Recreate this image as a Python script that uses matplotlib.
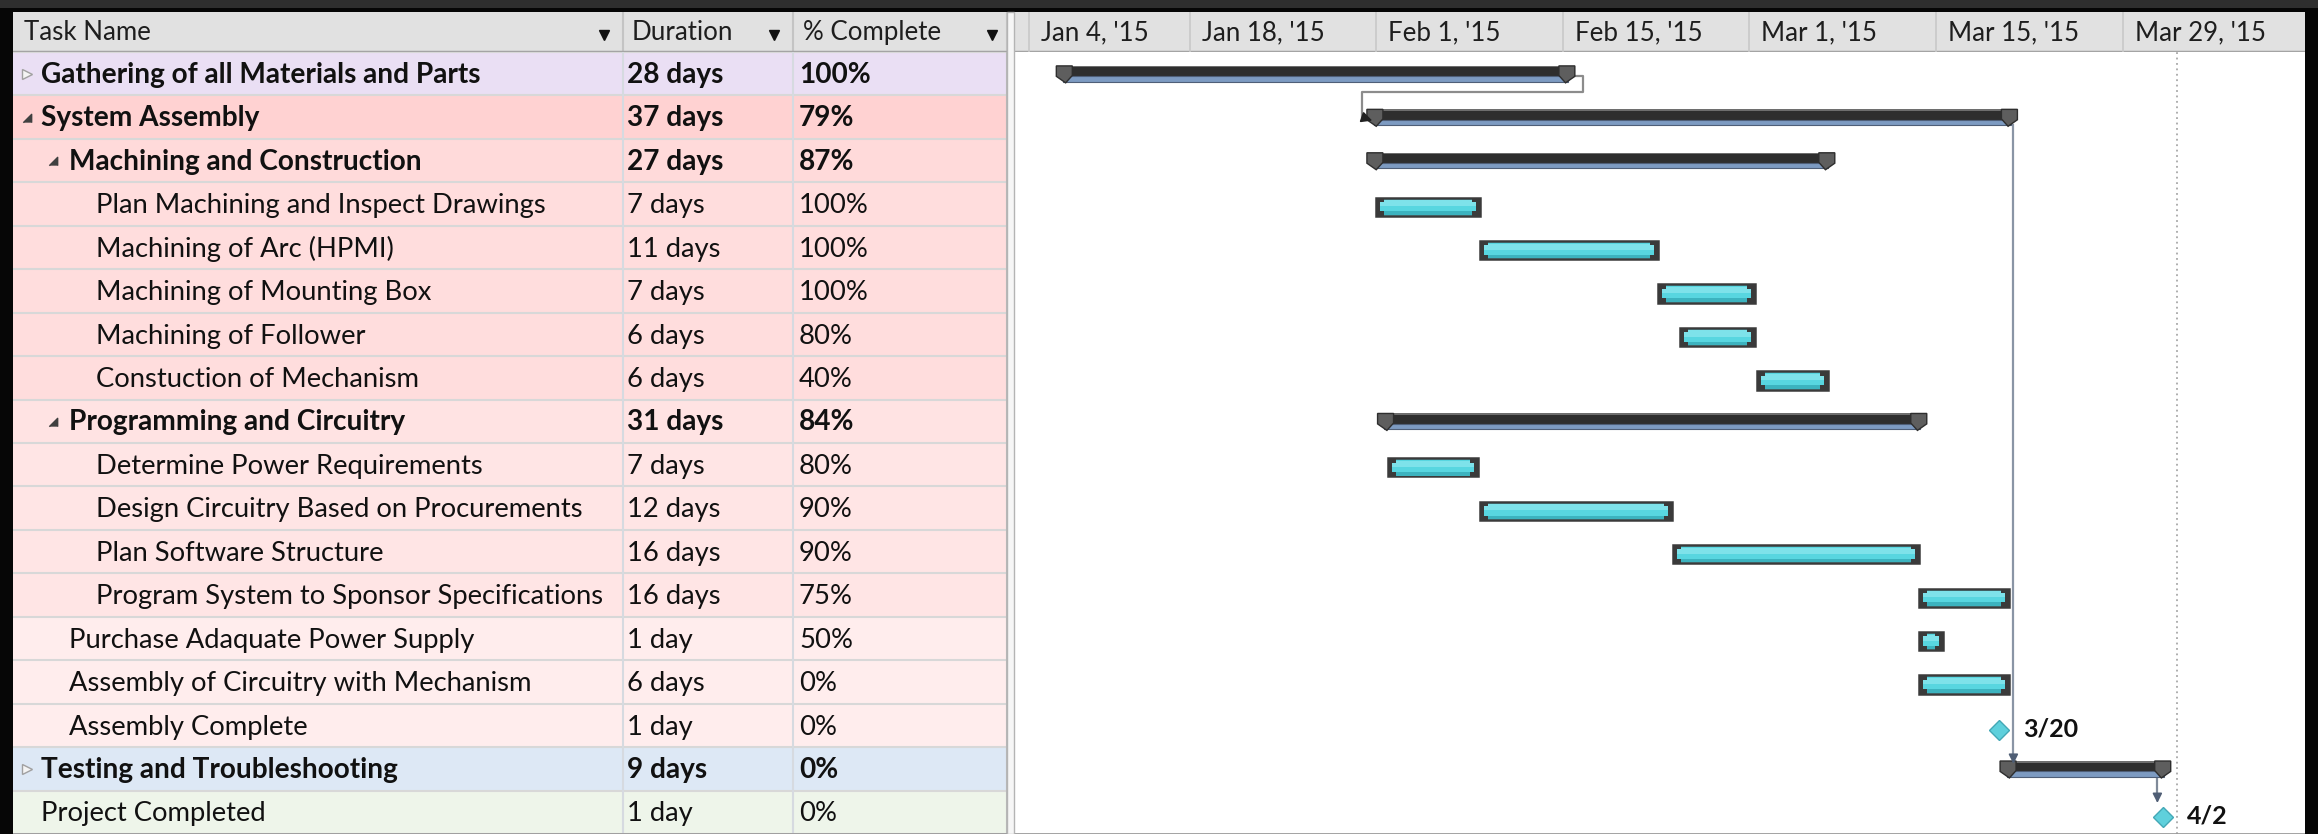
import numpy as np
import matplotlib.pyplot as plt
from matplotlib.patches import Rectangle, Polygon

plt.rcParams['font.family'] = ['Lato', 'DejaVu Sans']

W, H = 2318, 834

task_names = [
    'Gathering of all Materials and Parts',
    'System Assembly',
    'Machining and Construction',
    'Plan Machining and Inspect Drawings',
    'Machining of Arc (HPMI)',
    'Machining of Mounting Box',
    'Machining of Follower',
    'Constuction of Mechanism',
    'Programming and Circuitry',
    'Determine Power Requirements',
    'Design Circuitry Based on Procurements',
    'Plan Software Structure',
    'Program System to Sponsor Specifications',
    'Purchase Adaquate Power Supply',
    'Assembly of Circuitry with Mechanism',
    'Assembly Complete',
    'Testing and Troubleshooting',
    'Project Completed',
]
outline_level = [0, 0, 1, 2, 2, 2, 2, 2, 1, 2, 2, 2, 2, 1, 1, 1, 0, 0]
row_kind = ['collapsed', 'summary', 'summary', 'task', 'task', 'task', 'task', 'task',
            'summary', 'task', 'task', 'task', 'task', 'task', 'task', 'milestone',
            'collapsed', 'milestone']
durations = ['28 days', '37 days', '27 days', '7 days', '11 days', '7 days', '6 days',
             '6 days', '31 days', '7 days', '12 days', '16 days', '16 days', '1 day',
             '6 days', '1 day', '9 days', '1 day']
pct_complete = ['100%', '79%', '87%', '100%', '100%', '100%', '80%', '40%', '84%',
                '80%', '90%', '90%', '75%', '50%', '0%', '0%', '0%', '0%']

# bar start / finish in days after Jan 4 '15
bar_start = [4.0, 27.3, 27.3, 28.0, 35.8, 49.1, 50.8, 56.6, 28.1, 28.9, 35.8, 50.3,
             68.7, 68.7, 68.7, 74.7, 74.8, 87.0]
bar_finish = [42.9, 76.1, 62.4, 35.8, 49.1, 56.4, 56.4, 61.9, 69.3, 35.6, 50.2, 68.7,
              75.5, 70.5, 75.5, 74.7, 87.6, 87.0]
milestone_labels = {15: '3/20', 17: '4/2'}

row_colors = ['#eadff4', '#ffd2d2', '#ffdada', '#ffdddd', '#ffdddd', '#ffdddd',
              '#ffdddd', '#ffdddd', '#ffe3e3', '#ffe5e5', '#ffe5e5', '#ffe5e5',
              '#ffe5e5', '#ffeded', '#ffeded', '#ffeded', '#dde8f5', '#eef5ea']

scale_days = [0, 14, 28, 42, 56, 70, 84]
scale_labels = ["Jan 4, '15", "Jan 18, '15", "Feb 1, '15", "Feb 15, '15",
                "Mar 1, '15", "Mar 15, '15", "Mar 29, '15"]
status_day = 88.1

# (predecessor, successor, routing)
links = [(0, 1, 'loop'), (1, 16, 'drop'), (16, 17, 'drop')]

col_names = ['Task Name', 'Duration', '% Complete']

n = len(task_names)
rows = np.arange(n)
centers = rows + 0.5

FS_REG = 19.7
FS_BOLD = 20.2
FS_HEAD = 18.6
FS_SCALE = 18.6

fig = plt.figure(figsize=(W / 100, H / 100), dpi=100, facecolor='#060606')


def px_axes(x0, y0, x1, y1):
    return fig.add_axes([x0 / W, 1 - y1 / H, (x1 - x0) / W, (y1 - y0) / H])


# dark window frame on top
fig.add_artist(Rectangle((0, 1 - 8 / H), 1, 8 / H, transform=fig.transFigure,
                         fc='#2e2e2e', ec='none'))
# splitter between table and chart
fig.add_artist(Rectangle((1007 / W, 0), 7 / W, (H - 12) / H, transform=fig.transFigure,
                         fc='#f6f6f6', ec='#b4b4b4', lw=1))

# ---------------- table ----------------
tx0, tx1 = 13, 1007
col_edges = [tx0, 623, 793, tx1]
text_x = [None, 627, 799]
indent_x = [41, 69, 96]
tri_x = [27, 53]

tab = px_axes(tx0, 52, tx1, 834)
tab.set_xlim(tx0, tx1)
tab.set_ylim(n, 0)
tab.axis('off')
tab.barh(centers, tx1 - tx0, left=tx0, height=1, color=row_colors)
for r in range(n + 1):
    tab.axhline(r, color='#d8d8d8', lw=1.5)
for xe in col_edges[1:-1]:
    tab.axvline(xe, color='#d6dae0', lw=1.5)
tab.axvline(tx1 - 0.5, color='#b8b8b8', lw=1.5)

for i in rows:
    bold = row_kind[i] in ('summary', 'collapsed')
    fw = 'bold' if bold else 'normal'
    fs = FS_BOLD if bold else FS_REG
    y = centers[i] + 0.21
    lvl = outline_level[i]
    tab.text(indent_x[lvl], y, task_names[i], fontsize=fs, fontweight=fw,
             color='#111111', va='baseline', ha='left')
    tab.text(text_x[1], y, durations[i], fontsize=fs, fontweight=fw,
             color='#111111', va='baseline', ha='left')
    tab.text(text_x[2], y, pct_complete[i], fontsize=fs, fontweight=fw,
             color='#111111', va='baseline', ha='left')
    if row_kind[i] == 'collapsed':
        tab.plot(tri_x[lvl], centers[i], marker='>', ms=7, mfc='#f4f4f4',
                 mec='#a0a0a0', mew=1)
    elif row_kind[i] == 'summary':
        tab.plot(tri_x[lvl], centers[i] + 0.02, marker=[(1, -1), (1, 1), (-1, -1)],
                 ms=6, color='#404040')

# table header
th = px_axes(tx0, 12, tx1, 52)
th.set_xlim(tx0, tx1)
th.set_ylim(1, 0)
th.axis('off')
th.add_patch(Rectangle((tx0, 0), tx1 - tx0, 1, fc='#e1e1e1', ec='none'))
for xe in col_edges[1:]:
    th.axvline(xe, color='#c4c4c4', lw=1.5)
th.axhline(1, color='#a4a4a4', lw=2.5)
header_x = [24, 632, 803]
arrow_x = [604, 774, 992]
for j in range(3):
    th.text(header_x[j], 0.7, col_names[j], fontsize=FS_HEAD, color='#1e1e1e',
            va='baseline', ha='left')
    th.plot(arrow_x[j], 0.58, marker='v', ms=7, color='#111111')

# ---------------- gantt ----------------
gx0, gx1 = 1014, 2305
px_per_day = 13.33
day0_px = 1003
xlim = ((gx0 - day0_px) / px_per_day, (gx1 - day0_px) / px_per_day)

gan = px_axes(gx0, 52, gx1, 834)
gan.set_xlim(*xlim)
gan.set_ylim(n, 0)
gan.set_facecolor('white')
for s in gan.spines.values():
    s.set_visible(False)
gan.set_xticks([])
gan.set_yticks([])
gan.axvline(status_day, color='#a8a8a8', lw=1.3, ls=(0, (1, 2)), zorder=1)
gan.axhline(n, color='#9a9a9a', lw=2)
tab.axhline(n, color='#9a9a9a', lw=2)


def draw_summary(ax, s, f, c):
    cw = 1.2
    ax.add_patch(Rectangle((s, c - 0.18), f - s, 0.24, fc='#2e2e2e', ec='none', zorder=3))
    ax.add_patch(Rectangle((s, c - 0.18), f - s, 0.035, fc='#6e6e6e', ec='none', zorder=3))
    ax.add_patch(Rectangle((s + 0.5, c + 0.06), f - s - 1.0, 0.12, fc='#7d9bc2',
                           ec='#4f5f78', lw=0.8, zorder=3))
    left = [(s, c - 0.18), (s + cw, c - 0.18), (s + cw, c + 0.04), (s + 0.7, c + 0.21),
            (s, c + 0.06)]
    right = [(f, c - 0.18), (f - cw, c - 0.18), (f - cw, c + 0.04), (f - 0.7, c + 0.21),
             (f, c + 0.06)]
    for pts in (left, right):
        ax.add_patch(Polygon(pts, closed=True, fc='#5e5e5e', ec='#2e2e2e', lw=1, zorder=4))


def draw_task(ax, s, f, c):
    h = 0.42
    top = c - h / 2 + 0.06
    ax.add_patch(Rectangle((s, top), f - s, h, fc='#58d6e0', ec='#3a3a3a', lw=1.8, zorder=3))
    ax.add_patch(Rectangle((s, top + 0.06), f - s, 0.14, fc='#7ee2ea', ec='none', zorder=3))
    ax.add_patch(Rectangle((s, top + h - 0.1), f - s, 0.08, fc='#3cb3bf', ec='none', zorder=3))
    bw, tw = 0.3, 0.3
    for x0, sgn in ((s, 1), (f, -1)):
        xa = x0 if sgn > 0 else x0 - bw
        ax.add_patch(Rectangle((xa, top), bw, h, fc='#3a3a3a', ec='none', zorder=4))
        xb = x0 + bw if sgn > 0 else x0 - bw - tw
        ax.add_patch(Rectangle((xb, top), tw, 0.1, fc='#3a3a3a', ec='none', zorder=4))
        ax.add_patch(Rectangle((xb, top + h - 0.1), tw, 0.1, fc='#3a3a3a', ec='none', zorder=4))


for i in rows:
    c = centers[i]
    if row_kind[i] in ('summary', 'collapsed'):
        draw_summary(gan, bar_start[i], bar_finish[i], c)
    elif row_kind[i] == 'task':
        draw_task(gan, bar_start[i], bar_finish[i], c)
    else:
        gan.plot(bar_start[i], c + 0.1, marker='D', ms=10, mfc='#5fd0dc', mec='#43a8b6',
                 mew=1, zorder=5)
        gan.text(bar_start[i] + 1.8, c + 0.25, milestone_labels[i], fontsize=18,
                 fontweight='bold', color='#111111', va='baseline', ha='left')

# links
for p, q, route in links:
    cp, cq = centers[p], centers[q]
    if route == 'loop':
        xr = bar_finish[p] + 0.6
        xl = bar_start[q] - 0.35
        yb = p + 0.91
        gan.plot([bar_finish[p] - 0.3, xr, xr, xl, xl], [cp + 0.06, cp + 0.06, yb, yb, cq],
                 color='#8c8c8c', lw=1.6, zorder=2, solid_joinstyle='round')
        gan.annotate('', xy=(bar_start[q] + 0.6, cq + 0.1), xytext=(xl, cq),
                     arrowprops=dict(arrowstyle='-|>', color='#222222', lw=1.2,
                                     mutation_scale=16), zorder=6)
    else:
        if row_kind[q] == 'milestone':
            xd = bar_start[q] - 0.4
            tip = cq - 0.15
            gan.plot([bar_finish[p] - 1.4, xd, xd], [cp + 0.12, cp + 0.12, tip - 0.3],
                     color='#7f8a99', lw=1.6, zorder=2)
        else:
            xd = bar_finish[p] - 0.3
            tip = cq - 0.05
            gan.plot([xd, xd], [cp + 0.18, tip - 0.3], color='#8a95a5', lw=1.6, zorder=2)
        gan.annotate('', xy=(xd, tip), xytext=(xd, tip - 0.31),
                     arrowprops=dict(arrowstyle='-|>', color='#4f5e75', lw=1.2,
                                     mutation_scale=14), zorder=6)

# timescale header
gh = px_axes(gx0, 12, gx1, 52)
gh.set_xlim(*xlim)
gh.set_ylim(1, 0)
gh.axis('off')
gh.add_patch(Rectangle((xlim[0], 0), xlim[1] - xlim[0], 1, fc='#e1e1e1', ec='none'))
gh.axhline(1, color='#a4a4a4', lw=2.5)
for d, lab in zip(scale_days, scale_labels):
    xd = max(d, xlim[0] + 1.1)
    gh.axvline(xd, color='#c8c8c8', lw=1.2)
    gh.text(xd + 0.9, 0.7, lab, fontsize=FS_SCALE, color='#1e1e1e', va='baseline', ha='left')

fig.savefig('out.png', dpi=100, facecolor=fig.get_facecolor())
